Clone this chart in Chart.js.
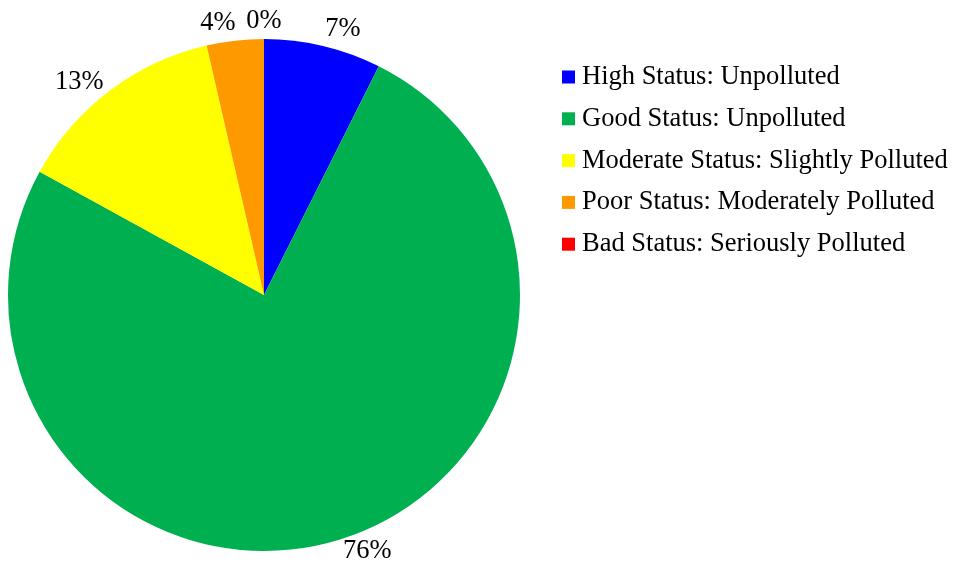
<!DOCTYPE html>
<html>
<head>
<meta charset="utf-8">
<script src="https://cdn.jsdelivr.net/npm/chart.js@4.4.1/dist/chart.umd.min.js"></script>
<style>
html,body{margin:0;padding:0;background:#fff;}
#wrap{position:relative;width:954px;height:566px;}
</style>
</head>
<body>
<div id="wrap"><canvas id="c" width="954" height="566"></canvas></div>
<script>
const categories = [
  "High Status: Unpolluted",
  "Good Status: Unpolluted",
  "Moderate Status: Slightly Polluted",
  "Poor Status: Moderately Polluted",
  "Bad Status: Seriously Polluted"
];
const shares = [7.4, 75.6, 13.4, 3.6, 0];
const sliceColors = ["#0000FF", "#00B050", "#FFFF00", "#FF9900", "#FF0000"];

const FONT = '"Liberation Serif", "Times New Roman", serif';
const FS = 26.5;

const labelsPlugin = {
  id: 'outLabels',
  afterDatasetsDraw(chart) {
    const ctx = chart.ctx;
    const meta = chart.getDatasetMeta(0);
    const total = shares.reduce((a, b) => a + b, 0);
    ctx.save();
    ctx.font = FS + 'px ' + FONT;
    ctx.fillStyle = '#000';
    ctx.textAlign = 'center';
    ctx.textBaseline = 'middle';
    meta.data.forEach((arc, i) => {
      const p = arc.getProps(['x', 'y', 'startAngle', 'endAngle', 'outerRadius'], true);
      const mid = (p.startAngle + p.endAngle) / 2;
      const ux = Math.cos(mid), uy = Math.sin(mid);
      const txt = Math.round(shares[i] / total * 100) + '%';
      const w = ctx.measureText(txt).width, h = FS * 0.9;
      const px = p.x + ux * p.outerRadius, py = p.y + uy * p.outerRadius;
      let cx = px + Math.sign(Math.round(ux * 100)) * Math.min(1, Math.abs(ux) * 8) * w / 2 + ux * 10;
      let cy = py + Math.pow(uy, 3) * (h / 2 + 6);
      cy = Math.min(chart.height - h / 2 - 3, Math.max(h / 2 + 2, cy));
      ctx.fillText(txt, cx, cy);
    });
    ctx.restore();
  }
};

const legendPlugin = {
  id: 'sideLegend',
  afterDraw(chart) {
    const ctx = chart.ctx;
    ctx.save();
    ctx.font = FS + 'px ' + FONT;
    ctx.textBaseline = 'middle';
    ctx.textAlign = 'left';
    const x0 = 562, y0 = 77, step = 41.8, box = 13;
    categories.forEach((name, i) => {
      const y = y0 + i * step;
      ctx.fillStyle = sliceColors[i];
      ctx.fillRect(x0, y - box / 2, box, box);
      ctx.fillStyle = '#000';
      ctx.fillText(name, x0 + 20, y);
    });
    ctx.restore();
  }
};

new Chart(document.getElementById('c'), {
  type: 'pie',
  data: {
    labels: categories,
    datasets: [{
      data: shares,
      backgroundColor: sliceColors,
      borderWidth: 0
    }]
  },
  options: {
    responsive: false,
    animation: false,
    layout: { padding: { left: 8, top: 39, bottom: 15, right: 434 } },
    plugins: {
      legend: { display: false },
      tooltip: { enabled: false }
    }
  },
  plugins: [labelsPlugin, legendPlugin]
});
</script>
</body>
</html>
